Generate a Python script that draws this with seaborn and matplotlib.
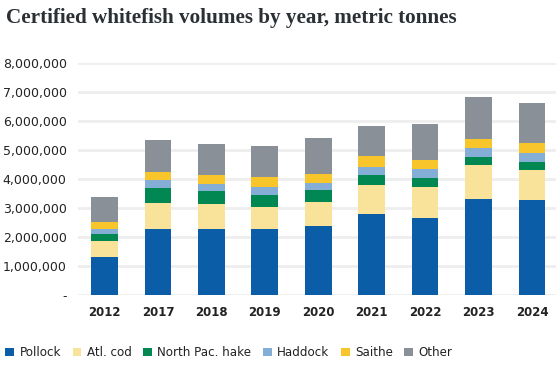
import pandas as pd
import matplotlib.pyplot as plt
import matplotlib.ticker as mticker
from matplotlib.patches import Patch
import seaborn as sns

# Data (millions of tonnes)
years = ['2012', '2017', '2018', '2019', '2020', '2021', '2022', '2023', '2024']
species = ['Pollock', 'Atl. cod', 'North Pac. hake', 'Haddock', 'Saithe', 'Other']
pollock = [1.31, 2.28, 2.28, 2.28, 2.38, 2.79, 2.66, 3.31, 3.28]
atl_cod = [0.55, 0.89, 0.86, 0.75, 0.83, 1.00, 1.06, 1.17, 1.03]
hake = [0.24, 0.52, 0.45, 0.42, 0.41, 0.35, 0.31, 0.28, 0.28]
haddock = [0.18, 0.28, 0.24, 0.27, 0.24, 0.27, 0.31, 0.31, 0.31]
saithe = [0.24, 0.27, 0.31, 0.35, 0.31, 0.38, 0.32, 0.31, 0.32]
other = [0.84, 1.10, 1.07, 1.07, 1.24, 1.04, 1.24, 1.45, 1.40]
colors = ['#0b5da8', '#f9e29a', '#008752', '#85aed6', '#f8c52a', '#8a9098']

df = pd.DataFrame({'year': years, 'Pollock': pollock, 'Atl. cod': atl_cod,
                   'North Pac. hake': hake, 'Haddock': haddock,
                   'Saithe': saithe, 'Other': other})
df[species] = df[species] * 1_000_000
cum = df[species].cumsum(axis=1)

sns.set_style('white')
plt.rcParams['font.family'] = ['DejaVu Sans']

fig = plt.figure(figsize=(5.56, 3.67), dpi=100)
ax = fig.add_axes([0.140, 0.196, 0.86, 0.633])

# stacked bars: draw cumulative totals from the top layer down
for sp, col in reversed(list(zip(species, colors))):
    sns.barplot(x=df['year'], y=cum[sp], color=col, width=0.5,
                saturation=1, linewidth=0, ax=ax, zorder=3)

ax.set_ylim(0, 8_000_000)
ax.set_xlim(-0.5, 8.45)
ax.yaxis.set_major_locator(mticker.MultipleLocator(1_000_000))
ax.yaxis.set_major_formatter(mticker.FuncFormatter(
    lambda v, p: '-' if v == 0 else f'{v:,.0f}'))
ax.grid(axis='y', color='#eeeeee', linewidth=2, zorder=0)
ax.set_axisbelow(True)
for s in ax.spines.values():
    s.set_visible(False)
ax.set_xlabel('')
ax.set_ylabel('')
ax.tick_params(axis='y', length=0, pad=8, labelsize=9, labelcolor='#222222')
ax.tick_params(axis='x', length=0, pad=8, labelsize=8.5, labelcolor='#222222')
for lab in ax.get_xticklabels():
    lab.set_fontweight('bold')

fig.text(0.011, 0.936, 'Certified whitefish volumes by year, metric tonnes',
         family='Liberation Serif', fontweight='bold', fontsize=15.2,
         color='#2b3035', va='baseline')

handles = [Patch(facecolor=c, edgecolor='none') for c in colors]
fig.legend(handles, species, loc='lower left', bbox_to_anchor=(0.001, 0.008),
           ncol=6, frameon=False, fontsize=8.6, handlelength=0.75,
           handleheight=0.75, handletextpad=0.45, columnspacing=0.95,
           borderpad=0.3, borderaxespad=0.1, labelcolor='#222222')

plt.savefig('out.png', dpi=100)
